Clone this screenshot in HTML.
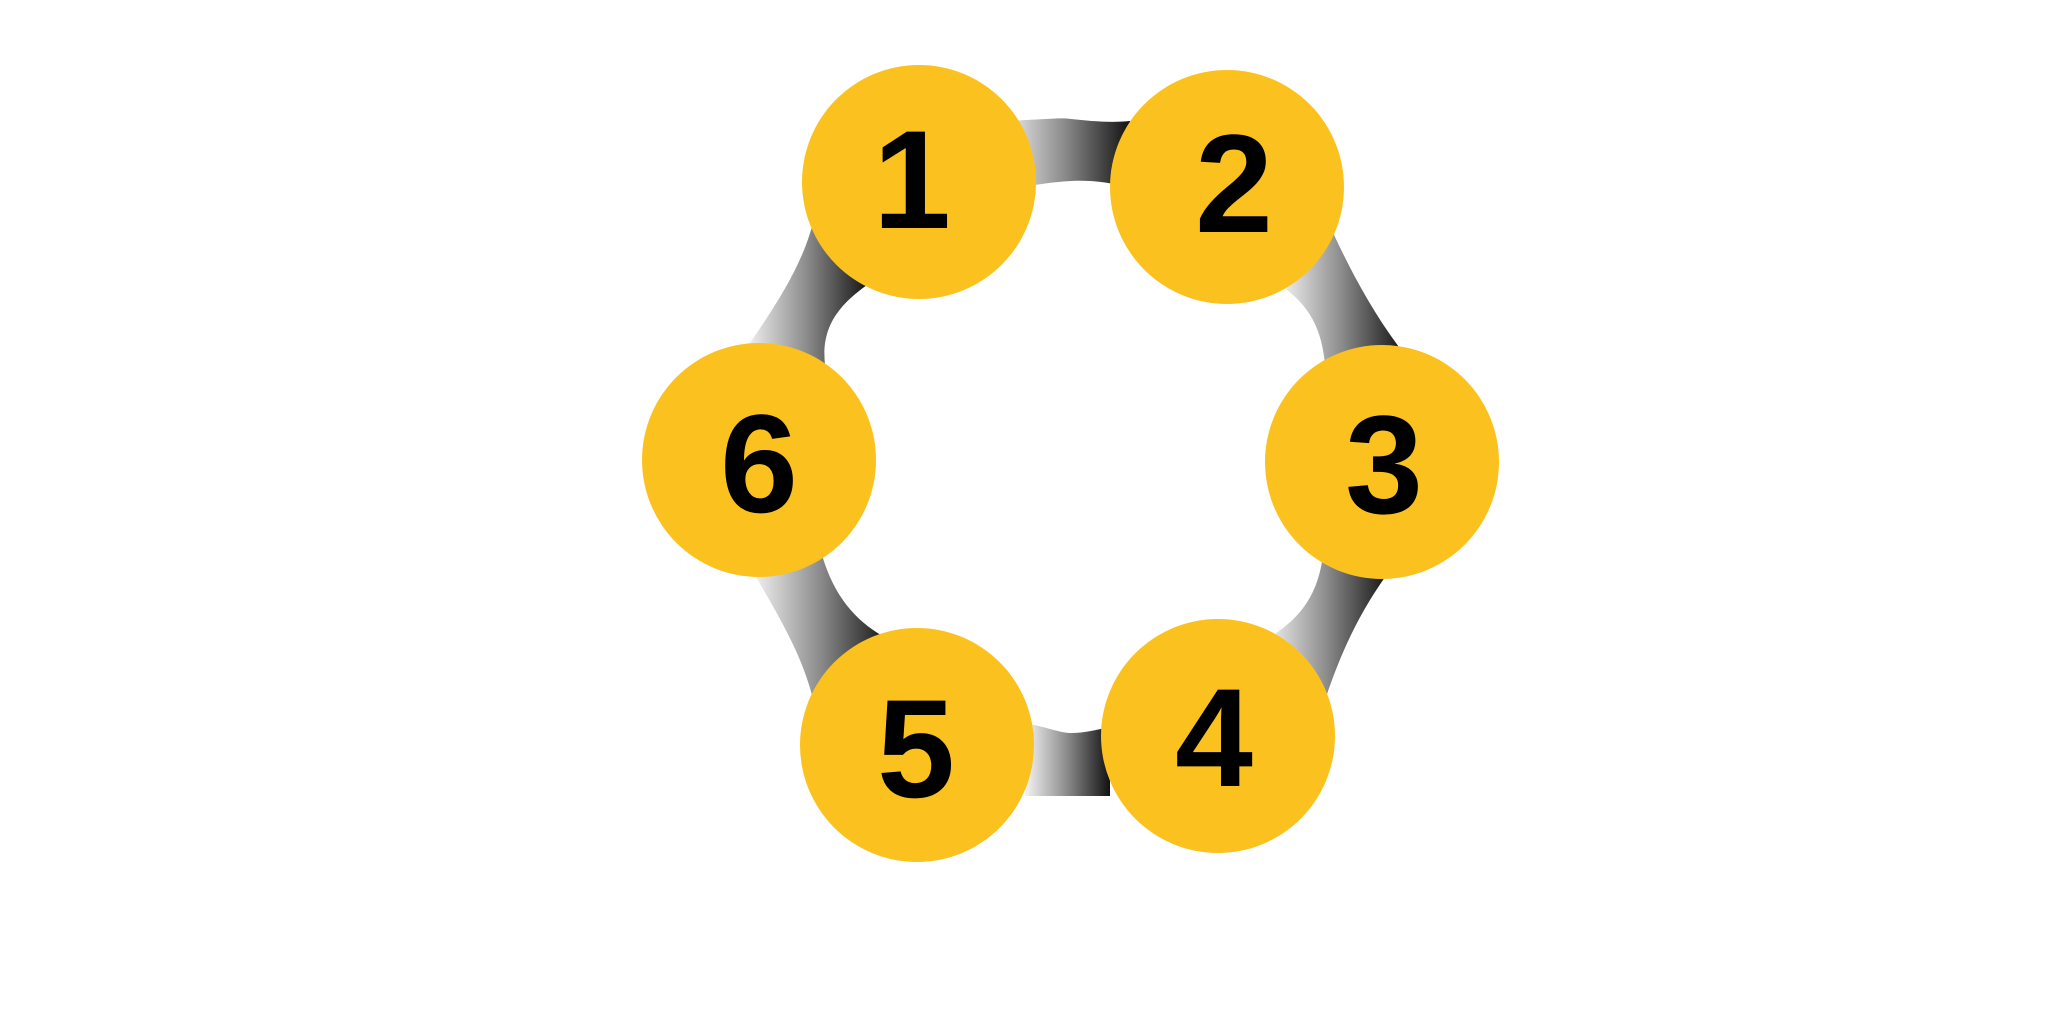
<!DOCTYPE html>
<html><head><meta charset="utf-8"><style>
html,body{margin:0;padding:0;background:#fff;width:2048px;height:1018px;overflow:hidden}
text{font-family:"Liberation Sans",sans-serif;font-weight:bold;fill:#000}
</style></head><body>
<svg width="2048" height="1018" viewBox="0 0 2048 1018" style="display:block">
<defs>
<linearGradient id="g" x1="0" y1="0" x2="1" y2="0">
<stop offset="0" stop-color="#f4f4f4"/><stop offset="0.5" stop-color="#8a8a8a"/><stop offset="1" stop-color="#111"/>
</linearGradient>
</defs>
<!-- 1-2 -->
<path d="M1000,121 C1040,120 1060,117 1071,119 C1090,121 1110,123 1130,121 L1130,188 C1110,182 1090,180 1071,181 C1050,182 1030,186 1000,190 Z" fill="url(#g)"/>
<!-- 6-1 -->
<path d="M815,215 C805,260 780,300 745,350 L825,365 C822,335 830,310 870,283 Z" fill="url(#g)"/>
<!-- 2-3 -->
<path d="M1325,215 C1345,260 1370,310 1405,355 L1325,365 C1322,330 1310,305 1280,285 Z" fill="url(#g)"/>
<!-- 3-4 -->
<path d="M1390,570 C1365,605 1345,640 1325,700 L1265,640 C1300,620 1318,595 1323,555 Z" fill="url(#g)"/>
<!-- 5-6 -->
<path d="M752,570 C775,610 800,650 812,695 L890,640 C860,625 835,600 822,555 Z" fill="url(#g)"/>
<!-- 4-5 -->
<path d="M1025,723 C1050,728 1060,733 1071,733 C1085,733 1095,730 1110,727 L1110,796 L1025,796 Z" fill="url(#g)"/>
<g fill="#fbc21f">
<circle cx="919" cy="182" r="117"/>
<circle cx="1227" cy="187" r="117"/>
<circle cx="1382" cy="462" r="117"/>
<circle cx="1218" cy="736" r="117"/>
<circle cx="917" cy="745" r="117"/>
<circle cx="759" cy="460" r="117"/>
</g>
<g font-size="140" text-anchor="middle">
<text x="912" y="228">1</text>
<text x="1234" y="232">2</text>
<text x="1384" y="513">3</text>
<text x="1214" y="786">4</text>
<text x="916" y="797">5</text>
<text x="759" y="512">6</text>
</g>
</svg>
</body></html>
